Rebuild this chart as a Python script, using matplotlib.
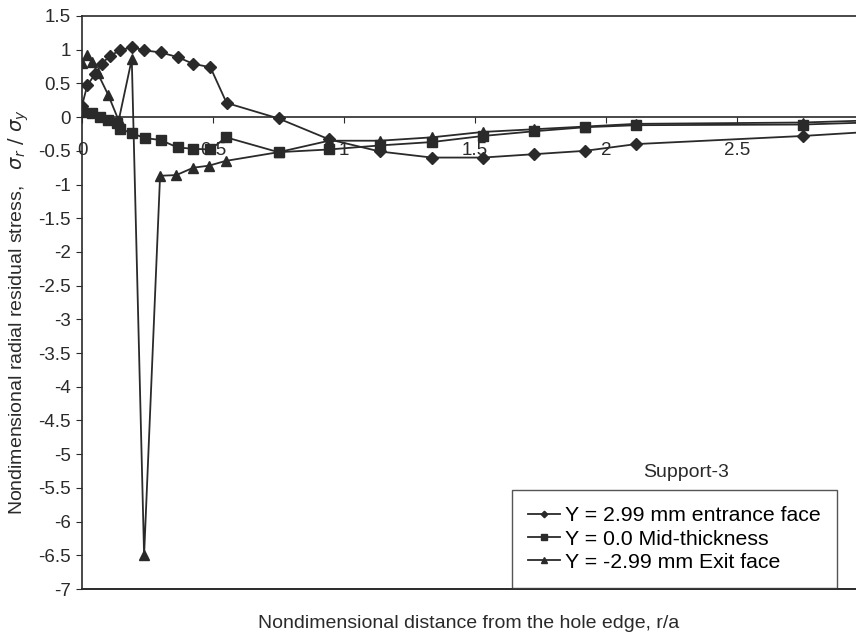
import matplotlib.pyplot as plt

plt.rcParams["font.family"] = ["Liberation Sans", "DejaVu Sans"]
plt.rcParams["axes.unicode_minus"] = False

# Y = 2.99 mm entrance face
entrance_x = [0.0, 0.02, 0.05, 0.075, 0.107, 0.145, 0.19, 0.238, 0.30, 0.365, 0.425,
              0.49, 0.552, 0.75, 0.943, 1.137, 1.335, 1.53, 1.725, 1.92, 2.115, 2.75, 3.0]
entrance_y = [0.17, 0.47, 0.64, 0.79, 0.91, 0.99, 1.04, 0.99, 0.96, 0.89, 0.79,
              0.74, 0.21, -0.02, -0.33, -0.51, -0.60, -0.60, -0.55, -0.50, -0.40, -0.28, -0.22]

# Y = 0.0 mid-thickness
mid_x = [0.0, 0.04, 0.07, 0.10, 0.135, 0.145, 0.19, 0.24, 0.30, 0.365, 0.425, 0.49,
         0.55, 0.75, 0.943, 1.137, 1.335, 1.53, 1.725, 1.92, 2.115, 2.75, 3.0]
mid_y = [0.08, 0.06, 0.0, -0.05, -0.08, -0.17, -0.24, -0.31, -0.34, -0.45, -0.47, -0.48,
         -0.30, -0.52, -0.48, -0.42, -0.37, -0.28, -0.21, -0.15, -0.12, -0.11, -0.08]

# Y = -2.99 mm exit face
exit_x = [0.0, 0.02, 0.04, 0.06, 0.10, 0.14, 0.19, 0.237, 0.298, 0.36, 0.425, 0.485,
          0.548, 0.75, 0.943, 1.137, 1.335, 1.53, 1.725, 1.92, 2.115, 2.75, 3.0]
exit_y = [0.80, 0.92, 0.82, 0.65, 0.33, -0.05, 0.86, -6.5, -0.87, -0.86, -0.75, -0.72,
          -0.65, -0.52, -0.35, -0.35, -0.30, -0.22, -0.18, -0.14, -0.10, -0.08, -0.05]

x_ticks = [0, 0.5, 1, 1.5, 2, 2.5]
x_labels = ["0", "0.5", "1", "1.5", "2", "2.5"]
y_ticks = [1.5, 1, 0.5, 0, -0.5, -1, -1.5, -2, -2.5, -3, -3.5, -4, -4.5, -5, -5.5, -6, -6.5, -7]

ink = "#2a2a2a"

fig = plt.figure(figsize=(8.56, 6.37), dpi=100)
ax = fig.add_axes([82 / 856, 1 - 589 / 637, 1 - 82 / 856, (589 - 16) / 637])

ax.plot(exit_x, exit_y, marker="^", markersize=7, color=ink, linewidth=1.3,
        label="Y = -2.99 mm Exit face", zorder=3)
ax.plot(entrance_x, entrance_y, marker="D", markersize=6, color=ink, linewidth=1.3,
        label="Y = 2.99 mm entrance face", zorder=4)
ax.plot(mid_x, mid_y, marker="s", markersize=7.5, color=ink, linewidth=1.3,
        label="Y = 0.0 Mid-thickness", zorder=5)

ax.set_xlim(0, (856 - 82) / 262)
ax.set_ylim(-7, 1.5)

ax.spines["bottom"].set_position(("data", 0))
ax.spines["right"].set_visible(False)
for s in ["bottom", "left", "top"]:
    ax.spines[s].set_color(ink)
    ax.spines[s].set_linewidth(1.2)
ax.axhline(-7, color=ink, linewidth=1.4, clip_on=False)

ax.set_xticks(x_ticks)
ax.set_xticklabels(x_labels)
ax.set_yticks(y_ticks)
ax.set_yticklabels([f"{v:g}" for v in y_ticks])
ax.tick_params(axis="x", direction="out", length=4, pad=14, labelsize=13.5, colors=ink)
ax.tick_params(axis="y", direction="out", length=4, pad=4, labelsize=13.5, colors=ink)

ax.set_xlabel("Nondimensional distance from the hole edge, r/a", fontsize=14, color=ink)
ax.xaxis.set_label_coords(0.5, -0.045)
ax.set_ylabel(r"Nondimensional radial residual stress,   $\sigma_r\ /\ \sigma_y$",
              fontsize=14, color=ink)
ax.yaxis.set_label_coords(-0.066, 0.483)

ax.text(0.78, 0.203, "Support-3", transform=ax.transAxes, fontsize=14,
        ha="center", va="center", color=ink)

handles, labels = ax.get_legend_handles_labels()
order = [1, 2, 0]
leg = ax.legend([handles[i] for i in order], [labels[i] for i in order],
                loc="lower left", bbox_to_anchor=(0.556, 0.002), fontsize=15.3,
                frameon=True, fancybox=False, edgecolor=ink, markerscale=0.55,
                handlelength=1.5, handletextpad=0.25, labelspacing=0.2,
                borderpad=0.75, borderaxespad=0)
leg.get_frame().set_linewidth(1.0)

fig.savefig("out.png", dpi=100)
